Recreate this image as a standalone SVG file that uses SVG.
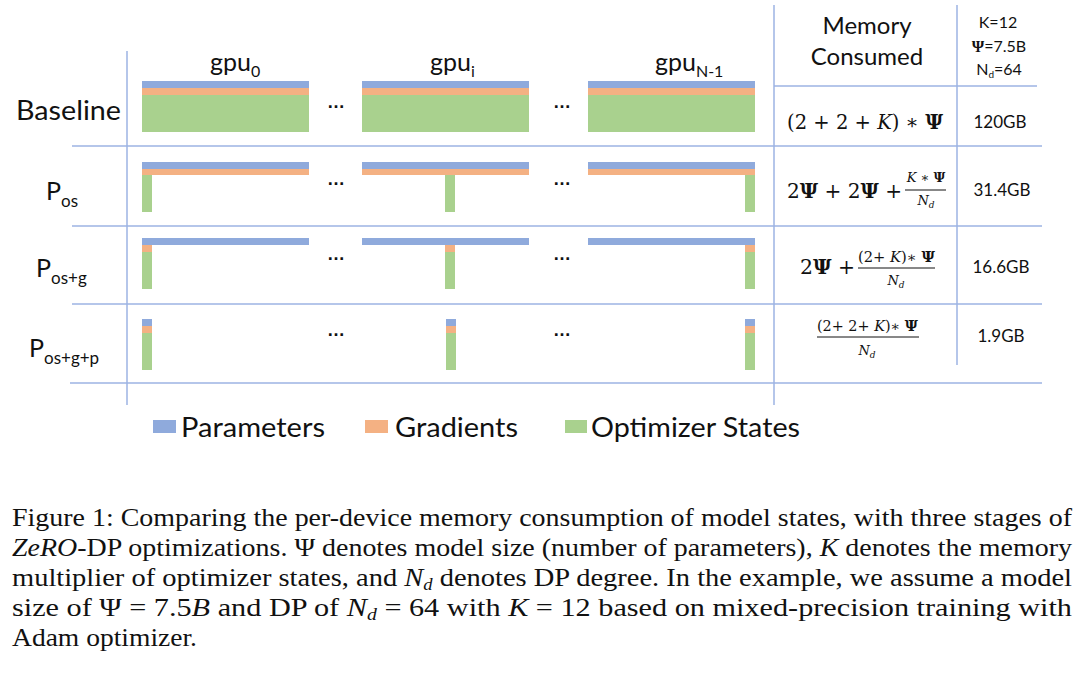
<svg xmlns="http://www.w3.org/2000/svg" width="1080" height="674" viewBox="0 0 1080 674">
<style>
.grid{stroke:#9DB3E3;stroke-width:1.5;fill:none}
.p{fill:#8FAADC}.g{fill:#F4B183}.o{fill:#A9D18E}
.lab{font-family:Lato,"Open Sans","Liberation Sans",sans-serif;fill:#111}
.m{font-family:"DejaVu Serif","Liberation Serif",serif;fill:#111}
.cap{font-family:"Liberation Serif","DejaVu Serif",serif;font-size:26px;fill:#111}
.dots{font-family:"Liberation Sans",sans-serif;font-size:18px;font-weight:bold;fill:#111}
</style>
<rect width="1080" height="674" fill="#fff"/>
<g id="grid">
<line class="grid" x1="127" y1="51" x2="127" y2="405"/>
<line class="grid" x1="774" y1="5" x2="774" y2="405"/>
<line class="grid" x1="957" y1="5" x2="957" y2="365"/>
<line class="grid" x1="774" y1="86" x2="1037" y2="86"/>
<line class="grid" x1="72" y1="146" x2="1042" y2="146"/>
<line class="grid" x1="72" y1="226" x2="1042" y2="226"/>
<line class="grid" x1="72" y1="304" x2="1042" y2="304"/>
<line class="grid" x1="70" y1="383" x2="1042" y2="383"/>
</g>
<g id="headers" class="lab">
<text x="210" y="71" font-size="25">gpu<tspan font-size="16" dy="6">0</tspan></text>
<text x="430" y="71" font-size="25">gpu<tspan font-size="16" dy="6">i</tspan></text>
<text x="655" y="71" font-size="25">gpu<tspan font-size="16" dy="6">N-1</tspan></text>
<text x="867" y="34" font-size="24" text-anchor="middle">Memory</text>
<text x="867" y="65" font-size="24" text-anchor="middle">Consumed</text>
<text x="998" y="28" font-size="16" text-anchor="middle">K=12</text>
<text x="999" y="52" font-size="16" text-anchor="middle"><tspan font-weight="bold" font-family="Liberation Serif,serif">Ψ</tspan>=7.5B</text>
<text x="999" y="75" font-size="16" text-anchor="middle">N<tspan font-size="10" dy="3">d</tspan><tspan dy="-3">=64</tspan></text>
</g>
<g id="row-labels" class="lab">
<text x="16" y="120" font-size="26" textLength="105" lengthAdjust="spacingAndGlyphs">Baseline</text>
<text x="46" y="200" font-size="25">P<tspan font-size="17" dy="7">os</tspan></text>
<text x="36" y="277" font-size="25">P<tspan font-size="17" dy="7">os+g</tspan></text>
<text x="29" y="357" font-size="25">P<tspan font-size="17" dy="7">os+g+p</tspan></text>
</g>
<g id="baseline-row">
<rect class="p" x="142" y="81" width="167" height="7"/><rect class="g" x="142" y="88" width="167" height="7"/><rect class="o" x="142" y="95" width="167" height="37"/>
<rect class="p" x="362" y="81" width="167" height="7"/><rect class="g" x="362" y="88" width="167" height="7"/><rect class="o" x="362" y="95" width="167" height="37"/>
<rect class="p" x="588" y="81" width="167" height="7"/><rect class="g" x="588" y="88" width="167" height="7"/><rect class="o" x="588" y="95" width="167" height="37"/>
</g>
<g id="pos-row">
<rect class="p" x="142" y="162" width="167" height="7"/><rect class="g" x="142" y="169" width="167" height="6"/><rect class="o" x="142" y="175" width="10" height="37"/>
<rect class="p" x="362" y="162" width="167" height="7"/><rect class="g" x="362" y="169" width="167" height="6"/><rect class="o" x="445" y="175" width="10" height="37"/>
<rect class="p" x="588" y="162" width="167" height="7"/><rect class="g" x="588" y="169" width="167" height="6"/><rect class="o" x="745" y="175" width="10" height="37"/>
</g>
<g id="posg-row">
<rect class="p" x="142" y="238" width="167" height="7"/><rect class="g" x="142" y="245" width="10" height="7"/><rect class="o" x="142" y="252" width="10" height="37"/>
<rect class="p" x="362" y="238" width="167" height="7"/><rect class="g" x="445" y="245" width="10" height="7"/><rect class="o" x="445" y="252" width="10" height="37"/>
<rect class="p" x="588" y="238" width="167" height="7"/><rect class="g" x="745" y="245" width="10" height="7"/><rect class="o" x="745" y="252" width="10" height="37"/>
</g>
<g id="posgp-row">
<rect class="p" x="142" y="319" width="10" height="7"/><rect class="g" x="142" y="326" width="10" height="7"/><rect class="o" x="142" y="333" width="10" height="37"/>
<rect class="p" x="446" y="319" width="10" height="7"/><rect class="g" x="446" y="326" width="10" height="7"/><rect class="o" x="446" y="333" width="10" height="37"/>
<rect class="p" x="745" y="319" width="10" height="7"/><rect class="g" x="745" y="326" width="10" height="7"/><rect class="o" x="745" y="333" width="10" height="37"/>
</g>
<g id="ellipses" class="dots">
<text x="327" y="108" textLength="18" lengthAdjust="spacingAndGlyphs">…</text>
<text x="553" y="108" textLength="18" lengthAdjust="spacingAndGlyphs">…</text>
<text x="327" y="185" textLength="18" lengthAdjust="spacingAndGlyphs">…</text>
<text x="553" y="185" textLength="18" lengthAdjust="spacingAndGlyphs">…</text>
<text x="327" y="260" textLength="18" lengthAdjust="spacingAndGlyphs">…</text>
<text x="553" y="260" textLength="18" lengthAdjust="spacingAndGlyphs">…</text>
<text x="327" y="336" textLength="18" lengthAdjust="spacingAndGlyphs">…</text>
<text x="553" y="336" textLength="18" lengthAdjust="spacingAndGlyphs">…</text>
</g>
<g id="formulas" class="m">
<text x="787" y="129" font-size="20" textLength="156" lengthAdjust="spacingAndGlyphs">(2 + 2 + <tspan font-style="italic">K</tspan>) ∗ <tspan font-weight="bold">Ψ</tspan></text>
<text x="787" y="198" font-size="20" textLength="115" lengthAdjust="spacingAndGlyphs">2<tspan font-weight="bold">Ψ</tspan> + 2<tspan font-weight="bold">Ψ</tspan> +</text>
<text x="926" y="182" font-size="13" text-anchor="middle"><tspan font-style="italic">K</tspan> ∗ <tspan font-weight="bold">Ψ</tspan></text>
<line x1="905" y1="190" x2="946" y2="190" stroke="#111" stroke-width="1"/>
<text x="926" y="205" font-size="13" text-anchor="middle" font-style="italic">N<tspan font-size="9" dy="3">d</tspan></text>
<text x="800" y="274" font-size="20" textLength="55" lengthAdjust="spacingAndGlyphs">2<tspan font-weight="bold">Ψ</tspan> +</text>
<text x="858" y="262" font-size="14" textLength="77" lengthAdjust="spacingAndGlyphs">(2+ <tspan font-style="italic">K</tspan>)∗ <tspan font-weight="bold">Ψ</tspan></text>
<line x1="858" y1="268" x2="935" y2="268" stroke="#111" stroke-width="1"/>
<text x="896" y="285" font-size="13" text-anchor="middle" font-style="italic">N<tspan font-size="9" dy="3">d</tspan></text>
<text x="817" y="331" font-size="14" textLength="101" lengthAdjust="spacingAndGlyphs">(2+ 2+ <tspan font-style="italic">K</tspan>)∗ <tspan font-weight="bold">Ψ</tspan></text>
<line x1="817" y1="337" x2="919" y2="337" stroke="#111" stroke-width="1"/>
<text x="867" y="355" font-size="13" text-anchor="middle" font-style="italic">N<tspan font-size="9" dy="3">d</tspan></text>
</g>
<g id="values" class="lab" font-size="17">
<text x="1000" y="128" text-anchor="middle">120GB</text>
<text x="1002" y="196" text-anchor="middle">31.4GB</text>
<text x="1001" y="273" text-anchor="middle">16.6GB</text>
<text x="1001" y="342" text-anchor="middle">1.9GB</text>
</g>
<g id="legend" class="lab" font-size="26">
<rect class="p" x="153" y="420" width="23" height="13"/>
<text x="181" y="437" textLength="144" lengthAdjust="spacingAndGlyphs">Parameters</text>
<rect class="g" x="365" y="420" width="23" height="13"/>
<text x="395" y="437" textLength="123" lengthAdjust="spacingAndGlyphs">Gradients</text>
<rect class="o" x="565" y="420" width="22" height="13"/>
<text x="591" y="437" textLength="209" lengthAdjust="spacingAndGlyphs">Optimizer States</text>
</g>
<g id="caption" class="cap">
<text x="12" y="526" textLength="1060" lengthAdjust="spacingAndGlyphs">Figure 1: Comparing the per-device memory consumption of model states, with three stages of</text>
<text x="12" y="556" textLength="1060" lengthAdjust="spacingAndGlyphs"><tspan font-style="italic">ZeRO</tspan>-DP optimizations. Ψ denotes model size (number of parameters), <tspan font-style="italic">K</tspan> denotes the memory</text>
<text x="12" y="586" textLength="1060" lengthAdjust="spacingAndGlyphs">multiplier of optimizer states, and <tspan font-style="italic">N<tspan font-size="17" dy="4">d</tspan></tspan><tspan dy="-4"> denotes DP degree. In the example, we assume a model</tspan></text>
<text x="12" y="616" textLength="1060" lengthAdjust="spacingAndGlyphs">size of Ψ = 7.5<tspan font-style="italic">B</tspan> and DP of <tspan font-style="italic">N<tspan font-size="17" dy="4">d</tspan></tspan><tspan dy="-4"> = 64 with </tspan><tspan font-style="italic">K</tspan> = 12 based on mixed-precision training with</text>
<text x="12" y="646" textLength="185" lengthAdjust="spacingAndGlyphs">Adam optimizer.</text>
</g>
</svg>
